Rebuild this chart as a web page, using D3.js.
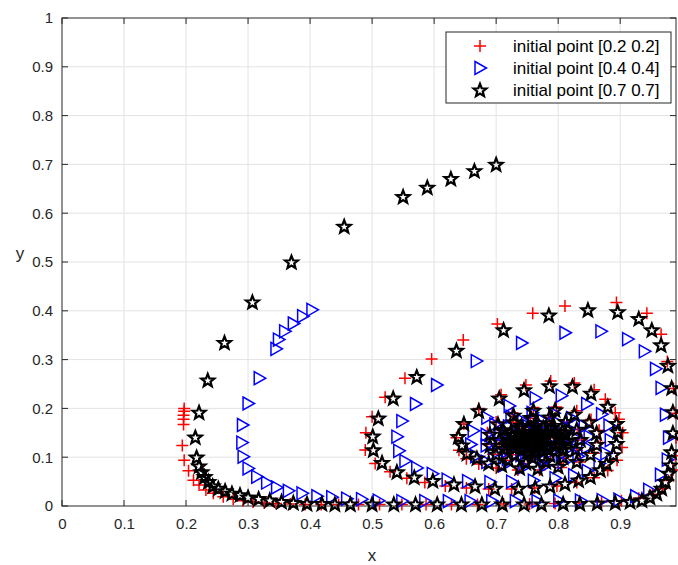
<!DOCTYPE html>
<html>
<head>
<meta charset="utf-8">
<script src="https://cdn.jsdelivr.net/npm/d3@7"></script>
<style>
  body { margin: 0; background: #ffffff; }
  text { font-family: "Liberation Sans", Arial, sans-serif; fill: #262626; }
</style>
</head>
<body>
<div class="chart"></div>
<script>
//Data: trajectories, [x, y] per marker
var redPoints = [
  [0.197,0.200],[0.197,0.194],[0.196,0.186],[0.196,0.178],[0.196,0.167],[0.194,0.124],[0.197,0.094],
  [0.204,0.072],[0.212,0.053],[0.221,0.043],[0.232,0.033],[0.244,0.026],[0.260,0.019],[0.276,0.014],
  [0.292,0.011],[0.308,0.008],[0.326,0.006],[0.345,0.005],[0.368,0.004],[0.392,0.003],[0.418,0.003],
  [0.446,0.003],[0.478,0.003],[0.512,0.003],[0.548,0.003],[0.587,0.003],[0.628,0.003],[0.670,0.003],
  [0.712,0.004],[0.754,0.004],[0.795,0.005],[0.834,0.006],[0.870,0.008],[0.902,0.011],[0.930,0.016],
  [0.952,0.024],[0.968,0.036],[0.978,0.052],[0.985,0.074],[0.989,0.103],[0.990,0.140],[0.989,0.190],
  [0.986,0.241],[0.976,0.296],[0.966,0.352],[0.943,0.395],[0.894,0.417],[0.811,0.410],[0.759,0.395],
  [0.702,0.373],[0.647,0.340],[0.596,0.301],[0.553,0.262],[0.521,0.223],[0.500,0.183],[0.490,0.150],
  [0.489,0.115],[0.505,0.087],[0.529,0.070],[0.556,0.057],[0.585,0.048],[0.618,0.041],[0.652,0.037],
  [0.688,0.035],[0.725,0.035],[0.762,0.037],[0.798,0.041],[0.830,0.048],[0.858,0.058],[0.880,0.073],
  [0.895,0.094],[0.903,0.120],[0.904,0.150],[0.898,0.178],[0.892,0.191],[0.876,0.219],[0.858,0.238],
  [0.826,0.252],[0.788,0.256],[0.748,0.248],[0.708,0.228],[0.672,0.200],[0.648,0.168],[0.636,0.140],
  [0.640,0.114],[0.652,0.097],[0.672,0.086],[0.700,0.078],[0.735,0.074],[0.770,0.074],[0.805,0.079],
  [0.835,0.090],[0.858,0.108],[0.868,0.130],[0.866,0.155],[0.853,0.177],[0.830,0.195],[0.797,0.203],
  [0.760,0.202],[0.726,0.191],[0.700,0.172],[0.686,0.150],[0.685,0.126],[0.695,0.106],[0.715,0.093],
  [0.745,0.087],[0.778,0.089],[0.808,0.098],[0.830,0.114],[0.838,0.135],[0.832,0.156],[0.814,0.172],
  [0.786,0.181],[0.755,0.180],[0.728,0.171],[0.710,0.155],[0.705,0.135],[0.713,0.117],[0.732,0.105],
  [0.760,0.101],[0.788,0.106],[0.808,0.118],[0.816,0.135],[0.810,0.152],[0.792,0.164],[0.766,0.168],
  [0.741,0.162],[0.725,0.149],[0.722,0.133],[0.732,0.119],[0.752,0.112],[0.776,0.114],[0.794,0.124],
  [0.800,0.138],[0.792,0.151],[0.774,0.158],[0.752,0.156],[0.737,0.146],[0.736,0.132],[0.748,0.122],
  [0.768,0.121],[0.783,0.130],[0.784,0.143],[0.770,0.150],[0.752,0.146],[0.748,0.134],[0.760,0.128],
  [0.772,0.134],[0.768,0.142],[0.758,0.140]
];

var bluePoints = [
  [0.403,0.402],[0.388,0.389],[0.373,0.374],[0.359,0.358],[0.349,0.341],[0.345,0.322],[0.318,0.262],
  [0.300,0.210],[0.291,0.166],[0.290,0.130],[0.292,0.101],[0.300,0.077],[0.314,0.060],[0.330,0.048],
  [0.346,0.038],[0.365,0.031],[0.387,0.026],[0.411,0.020],[0.435,0.018],[0.459,0.015],[0.483,0.014],
  [0.510,0.011],[0.548,0.010],[0.585,0.010],[0.623,0.010],[0.658,0.010],[0.693,0.010],[0.731,0.010],
  [0.766,0.010],[0.801,0.011],[0.836,0.011],[0.871,0.012],[0.898,0.013],[0.925,0.020],[0.946,0.033],
  [0.965,0.064],[0.976,0.095],[0.978,0.140],[0.973,0.187],[0.966,0.242],[0.957,0.281],[0.939,0.317],
  [0.912,0.342],[0.869,0.358],[0.811,0.355],[0.741,0.334],[0.668,0.297],[0.604,0.248],[0.570,0.209],
  [0.548,0.174],[0.540,0.142],[0.543,0.113],[0.553,0.092],[0.572,0.078],[0.597,0.066],[0.621,0.054],
  [0.654,0.051],[0.690,0.049],[0.725,0.050],[0.760,0.052],[0.795,0.057],[0.825,0.063],[0.847,0.072],
  [0.866,0.087],[0.877,0.108],[0.884,0.135],[0.882,0.165],[0.870,0.188],[0.846,0.209],[0.805,0.226],
  [0.763,0.221],[0.721,0.205],[0.685,0.181],[0.663,0.154],[0.659,0.126],[0.667,0.102],[0.685,0.090],
  [0.712,0.083],[0.745,0.080],[0.778,0.082],[0.808,0.089],[0.832,0.102],[0.846,0.120],[0.850,0.142],
  [0.842,0.163],[0.822,0.180],[0.793,0.190],[0.758,0.191],[0.724,0.183],[0.698,0.167],[0.684,0.146],
  [0.684,0.124],[0.696,0.107],[0.718,0.096],[0.748,0.092],[0.779,0.095],[0.805,0.105],[0.821,0.121],
  [0.826,0.140],[0.818,0.158],[0.799,0.171],[0.772,0.177],[0.743,0.174],[0.720,0.163],[0.706,0.146],
  [0.705,0.127],[0.717,0.112],[0.740,0.104],[0.767,0.104],[0.790,0.112],[0.804,0.126],[0.806,0.142],
  [0.796,0.156],[0.776,0.164],[0.752,0.163],[0.732,0.154],[0.722,0.139],[0.726,0.123],[0.742,0.114],
  [0.764,0.113],[0.783,0.121],[0.792,0.135],[0.787,0.149],[0.771,0.157],[0.751,0.155],[0.738,0.145],
  [0.738,0.130],[0.751,0.121],[0.769,0.122],[0.780,0.133],[0.777,0.146],[0.762,0.150],[0.749,0.142],
  [0.752,0.130],[0.765,0.129],[0.770,0.139],[0.761,0.143],[0.757,0.137]
];

var blackPoints = [
  [0.700,0.700],[0.665,0.687],[0.627,0.671],[0.589,0.653],[0.550,0.634],[0.455,0.573],[0.370,0.500],
  [0.307,0.418],[0.262,0.335],[0.235,0.258],[0.221,0.192],[0.215,0.141],[0.217,0.100],[0.221,0.082],
  [0.225,0.070],[0.230,0.060],[0.236,0.050],[0.243,0.041],[0.252,0.036],[0.263,0.031],[0.274,0.026],
  [0.287,0.023],[0.300,0.018],[0.317,0.015],[0.335,0.012],[0.354,0.009],[0.373,0.007],[0.395,0.005],
  [0.419,0.005],[0.440,0.004],[0.465,0.004],[0.500,0.004],[0.535,0.004],[0.570,0.004],[0.605,0.004],
  [0.644,0.004],[0.677,0.004],[0.710,0.004],[0.745,0.004],[0.773,0.004],[0.808,0.005],[0.835,0.005],
  [0.863,0.006],[0.892,0.007],[0.916,0.009],[0.935,0.012],[0.948,0.018],[0.959,0.026],[0.967,0.036],
  [0.973,0.050],[0.978,0.067],[0.981,0.084],[0.983,0.111],[0.985,0.150],[0.985,0.193],[0.983,0.242],
  [0.977,0.288],[0.966,0.330],[0.951,0.361],[0.930,0.384],[0.896,0.398],[0.848,0.402],[0.785,0.391],
  [0.712,0.361],[0.636,0.319],[0.572,0.265],[0.534,0.221],[0.510,0.180],[0.501,0.143],[0.502,0.115],
  [0.516,0.089],[0.540,0.070],[0.568,0.059],[0.598,0.052],[0.632,0.045],[0.666,0.041],[0.698,0.036],
  [0.736,0.036],[0.763,0.038],[0.787,0.041],[0.811,0.046],[0.833,0.053],[0.852,0.060],[0.868,0.074],
  [0.878,0.087],[0.889,0.105],[0.894,0.128],[0.896,0.152],[0.894,0.169],[0.880,0.204],[0.853,0.231],
  [0.823,0.245],[0.786,0.246],[0.745,0.238],[0.705,0.221],[0.672,0.195],[0.648,0.169],[0.639,0.142],
  [0.645,0.125],[0.653,0.108],[0.669,0.098],[0.688,0.088],[0.709,0.084],[0.738,0.078],[0.767,0.077],
  [0.800,0.081],[0.830,0.091],[0.852,0.106],[0.862,0.126],[0.862,0.150],[0.850,0.172],[0.826,0.188],
  [0.795,0.197],[0.760,0.196],[0.728,0.186],[0.703,0.168],[0.690,0.147],[0.690,0.124],[0.700,0.106],
  [0.720,0.094],[0.748,0.089],[0.780,0.091],[0.808,0.100],[0.828,0.116],[0.836,0.136],[0.830,0.157],
  [0.812,0.173],[0.786,0.182],[0.756,0.181],[0.729,0.172],[0.711,0.156],[0.705,0.136],[0.712,0.118],
  [0.730,0.105],[0.758,0.100],[0.787,0.104],[0.808,0.117],[0.816,0.134],[0.811,0.152],[0.793,0.165],
  [0.767,0.170],[0.741,0.165],[0.724,0.151],[0.720,0.134],[0.729,0.119],[0.750,0.111],[0.776,0.113],
  [0.795,0.123],[0.802,0.138],[0.795,0.153],[0.776,0.161],[0.753,0.159],[0.736,0.149],[0.733,0.133],
  [0.744,0.121],[0.764,0.117],[0.783,0.124],[0.789,0.138],[0.780,0.150],[0.761,0.153],[0.745,0.145],
  [0.744,0.131],[0.757,0.124],[0.773,0.128],[0.778,0.140],[0.768,0.147],[0.754,0.142],[0.755,0.131],
  [0.767,0.131],[0.770,0.140],[0.761,0.141],[0.800,0.128],[0.803,0.146],[0.789,0.160],[0.764,0.165],
  [0.739,0.160],[0.726,0.146],[0.727,0.127],[0.741,0.115],[0.763,0.110],[0.785,0.115],[0.748,0.138],
  [0.772,0.136],[0.760,0.147],[0.760,0.125],[0.715,0.146],[0.717,0.125],[0.808,0.126],[0.812,0.146]
];

var xTicks = [0, 0.1, 0.2, 0.3, 0.4, 0.5, 0.6, 0.7, 0.8, 0.9];
var yTicks = [0, 0.1, 0.2, 0.3, 0.4, 0.5, 0.6, 0.7, 0.8, 0.9, 1];
var seriesNames = ["initial point [0.2 0.2]", "initial point [0.4 0.4]", "initial point [0.7 0.7]"];
var seriesColors = ["#ff0000", "#0000ff", "#000000"];
var seriesMarkers = ["plus", "triangle", "star"];

//View
var chartView = {
    width: 678,
    height: 565,
    margin: { top: 18, right: 2, bottom: 59, left: 62 },
    init() {
        this.innerWidth = this.width - this.margin.left - this.margin.right;
        this.innerHeight = this.height - this.margin.top - this.margin.bottom;
        this.x = d3.scaleLinear().domain([0, 0.99]).range([0, this.innerWidth]);
        this.y = d3.scaleLinear().domain([0, 1]).range([this.innerHeight, 0]);

        //Create svg element to hold graph
        this.svg = d3.select(".chart")
            .append("svg")
            .attr("width", this.width)
            .attr("height", this.height);
        this.g = this.svg.append("g")
            .attr("transform", `translate(${this.margin.left},${this.margin.top})`);
    },
    markerPath(kind) {
        if (kind === "plus") return "M-6,0H6M0,-6V6";
        if (kind === "triangle") return "M-5,-6.5L6.5,0L-5,6.5Z";
        //Pentagram
        const pts = [];
        for (let i = 0; i < 10; ++i) {
            const r = i % 2 === 0 ? 6.8 : 2.9;
            const a = -Math.PI / 2 + i * Math.PI / 5;
            pts.push([r * Math.cos(a), r * Math.sin(a) + 0.6]);
        }
        return "M" + pts.map(p => p[0].toFixed(2) + "," + p[1].toFixed(2)).join("L") + "Z";
    },
    drawGrid() {
        const grid = this.g.append("g").attr("class", "grid");
        grid.selectAll("line.vx").data(xTicks.slice(1)).join("line")
            .attr("x1", d => this.x(d)).attr("x2", d => this.x(d))
            .attr("y1", 0).attr("y2", this.innerHeight)
            .style("stroke", "#e3e3e3").style("stroke-width", 1);
        grid.selectAll("line.hy").data(yTicks.slice(1, -1)).join("line")
            .attr("class", "hy")
            .attr("x1", 0).attr("x2", this.innerWidth)
            .attr("y1", d => this.y(d)).attr("y2", d => this.y(d))
            .style("stroke", "#e3e3e3").style("stroke-width", 1);
    },
    drawAxes() {
        const xAxis = d3.axisBottom(this.x).tickValues(xTicks).tickSize(0).tickPadding(12)
            .tickFormat(d3.format("~g"));
        const yAxis = d3.axisLeft(this.y).tickValues(yTicks).tickSize(0).tickPadding(9)
            .tickFormat(d3.format("~g"));

        const gx = this.g.append("g")
            .attr("transform", `translate(0,${this.innerHeight})`)
            .call(xAxis);
        const gy = this.g.append("g").call(yAxis);
        [gx, gy].forEach(a => {
            a.select(".domain").remove();
            a.selectAll("text")
                .style("font-family", "'Liberation Sans', Arial, sans-serif")
                .style("font-size", "15px")
                .style("fill", "#262626");
        });

        //Box and inward ticks on all four sides
        const box = this.g.append("g").attr("class", "box");
        box.append("rect")
            .attr("width", this.innerWidth).attr("height", this.innerHeight)
            .style("fill", "none").style("stroke", "#262626").style("stroke-width", 1);
        const t = 6;
        box.selectAll("line.tx").data(xTicks).join("line")
            .attr("x1", d => this.x(d)).attr("x2", d => this.x(d))
            .attr("y1", this.innerHeight).attr("y2", this.innerHeight - t)
            .style("stroke", "#262626");
        box.selectAll("line.tx2").data(xTicks).join("line")
            .attr("class", "tx2")
            .attr("x1", d => this.x(d)).attr("x2", d => this.x(d))
            .attr("y1", 0).attr("y2", t)
            .style("stroke", "#262626");
        box.selectAll("line.ty").data(yTicks).join("line")
            .attr("class", "ty")
            .attr("x1", 0).attr("x2", t)
            .attr("y1", d => this.y(d)).attr("y2", d => this.y(d))
            .style("stroke", "#262626");
        box.selectAll("line.ty2").data(yTicks).join("line")
            .attr("class", "ty2")
            .attr("x1", this.innerWidth).attr("x2", this.innerWidth - t)
            .attr("y1", d => this.y(d)).attr("y2", d => this.y(d))
            .style("stroke", "#262626");

        //Axis labels
        this.g.append("text")
            .attr("x", this.x(0.5)).attr("y", this.innerHeight + 55)
            .attr("text-anchor", "middle")
            .style("font-size", "17px")
            .text("x");
        this.g.append("text")
            .attr("x", -42).attr("y", this.y(0.5) - 3)
            .attr("text-anchor", "middle")
            .style("font-size", "17px")
            .text("y");
    },
    drawSeries(points, kind, color) {
        const path = this.markerPath(kind);
        this.g.append("g").selectAll("path").data(points).join("path")
            .attr("d", path)
            .attr("transform", d => `translate(${this.x(d[0])},${this.y(d[1])})`)
            .style("fill", "none")
            .style("stroke", color)
            .style("stroke-width", kind === "star" ? 2.2 : 1.5);
    },
    drawLegend() {
        const lg = this.svg.append("g").attr("transform", "translate(446,32)");
        lg.append("rect")
            .attr("width", 225).attr("height", 71)
            .style("fill", "#ffffff").style("stroke", "#262626").style("stroke-width", 1);
        seriesNames.forEach((name, i) => {
            const yy = 14 + i * 22;
            lg.append("path")
                .attr("d", this.markerPath(seriesMarkers[i]))
                .attr("transform", `translate(34,${yy})`)
                .style("fill", "none")
                .style("stroke", seriesColors[i])
                .style("stroke-width", seriesMarkers[i] === "star" ? 2.2 : 1.5);
            lg.append("text")
                .attr("x", 67).attr("y", yy + 6)
                .style("font-size", "17px")
                .style("fill", "#000000")
                .text(name);
        });
    }
};

//Draw
chartView.init();
chartView.drawGrid();
chartView.drawAxes();
chartView.drawSeries(redPoints, seriesMarkers[0], seriesColors[0]);
chartView.drawSeries(bluePoints, seriesMarkers[1], seriesColors[1]);
chartView.drawSeries(blackPoints, seriesMarkers[2], seriesColors[2]);
chartView.drawLegend();
</script>
</body>
</html>
